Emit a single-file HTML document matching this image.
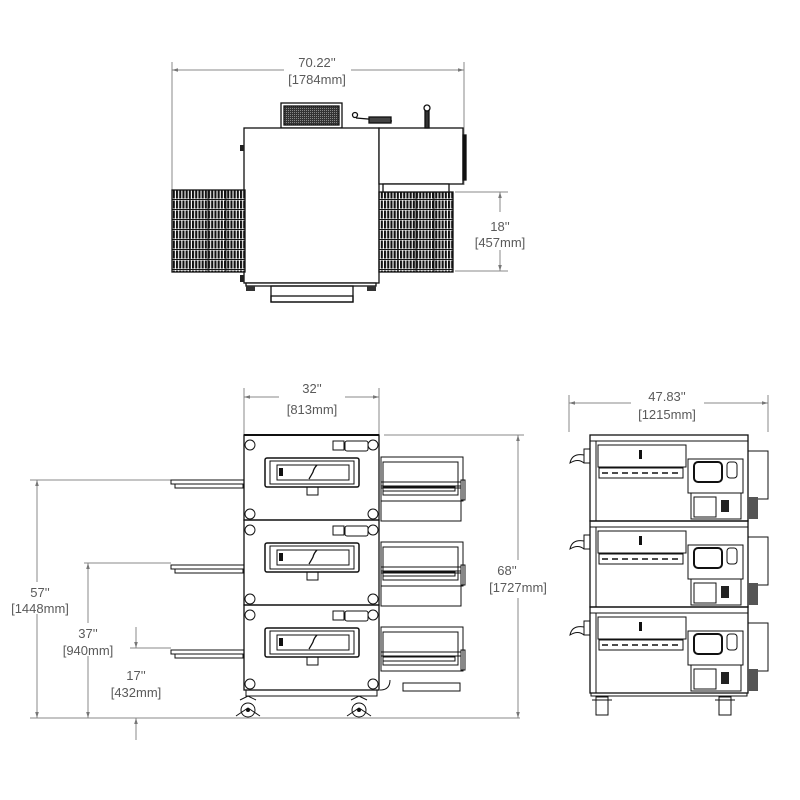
<!DOCTYPE html>
<html><head><meta charset="utf-8"><style>
html,body{margin:0;padding:0;background:#fff;}
svg{display:block}
text{font-family:"Liberation Sans",sans-serif;font-size:13px;fill:#5a5a5a;text-anchor:middle}
</style></head><body>
<svg width="800" height="800" viewBox="0 0 800 800" xmlns="http://www.w3.org/2000/svg">
<defs>
<pattern id="gr" width="3.2" height="10" patternUnits="userSpaceOnUse">
<rect width="3.2" height="10" fill="#fff"/>
<rect x="0" y="0.5" width="2.1" height="8" fill="#111"/>
<rect x="0" y="9" width="3.2" height="1" fill="#111"/>
</pattern>
<pattern id="mesh" width="2" height="2" patternUnits="userSpaceOnUse">
<rect width="2" height="2" fill="#333"/><rect width="1" height="1" fill="#888"/>
</pattern>
<marker id="ar" viewBox="0 0 10 10" refX="10" refY="5" markerWidth="6" markerHeight="6" orient="auto-start-reverse"><path d="M0,2 L10,5 L0,8 z" fill="#777"/></marker>
<g id="fu">
<rect x="244" y="0" width="135" height="85" fill="none" stroke="#111" stroke-width="1.3"/>
<circle cx="250" cy="10" r="5" fill="#fff" stroke="#111"/><circle cx="373" cy="10" r="5" fill="#fff" stroke="#111"/>
<circle cx="250" cy="79" r="5" fill="#fff" stroke="#111"/><circle cx="373" cy="79" r="5" fill="#fff" stroke="#111"/>
<rect x="333" y="6" width="11" height="9" fill="none" stroke="#111"/><rect x="345" y="6" width="23" height="10" rx="2" fill="none" stroke="#111"/>
<rect x="265" y="23" width="94" height="29" rx="2" fill="none" stroke="#111" stroke-width="1.5"/>
<rect x="270" y="26" width="84" height="23" fill="none" stroke="#111"/>
<rect x="277" y="30" width="72" height="15" fill="none" stroke="#111"/>
<rect x="279" y="33" width="4" height="8" fill="#111"/>
<path d="M309,44 q3,-5 4,-7 q1,-4 4,-7" stroke="#111" fill="none" stroke-width="1.3"/>
<rect x="307" y="52" width="11" height="8" fill="none" stroke="#111"/>
<rect x="171" y="45" width="73" height="4" fill="none" stroke="#111"/>
<rect x="175" y="49" width="68" height="4" fill="none" stroke="#111"/>
<rect x="381" y="22" width="82" height="44" fill="none" stroke="#111"/>
<rect x="383" y="27" width="75" height="33" fill="none" stroke="#111"/>
<rect x="381" y="47" width="80" height="4" fill="none" stroke="#111"/>
<rect x="383" y="52" width="72" height="4" fill="none" stroke="#111"/>
<rect x="461" y="45" width="4" height="20" fill="none" stroke="#111"/>
</g>
<g id="su">
<rect x="590" y="0" width="158" height="86" fill="none" stroke="#111" stroke-width="1.3"/>
<line x1="590" y1="6" x2="748" y2="6" stroke="#111"/>
<line x1="596" y1="6" x2="596" y2="86" stroke="#111"/>
<rect x="598" y="10" width="88" height="22" fill="none" stroke="#111"/>
<rect x="599" y="33" width="84" height="10" fill="none" stroke="#111"/>
<line x1="602" y1="38" x2="680" y2="38" stroke="#111" stroke-dasharray="6,4" stroke-width="1.5"/>
<rect x="639" y="15" width="3" height="9" fill="#111"/>
<rect x="688" y="24" width="55" height="34" fill="none" stroke="#111"/>
<rect x="694" y="27" width="28" height="20" rx="4" fill="none" stroke="#111" stroke-width="2"/>
<rect x="727" y="27" width="10" height="16" rx="3" fill="none" stroke="#111"/>
<rect x="691" y="58" width="50" height="26" fill="none" stroke="#111"/>
<rect x="694" y="62" width="22" height="20" fill="none" stroke="#111"/>
<rect x="721" y="65" width="8" height="12" fill="#222"/>
<rect x="748" y="16" width="20" height="48" fill="none" stroke="#111"/>
<path d="M584,20 q-12,-2 -14,8 q8,-5 14,0" fill="none" stroke="#111"/>
<rect x="584" y="14" width="6" height="14" fill="none" stroke="#111"/>
<rect x="748" y="62" width="10" height="22" fill="#555"/>
</g>
</defs>

<!-- TOP VIEW -->
<g stroke="#888" stroke-width="1" fill="none">
<line x1="172" y1="62" x2="172" y2="190"/><line x1="464" y1="62" x2="464" y2="185"/>
<line x1="172" y1="70" x2="284" y2="70" marker-start="url(#ar)"/><line x1="351" y1="70" x2="464" y2="70" marker-end="url(#ar)"/>
<line x1="455" y1="192" x2="508" y2="192"/><line x1="455" y1="271" x2="508" y2="271"/>
<line x1="500" y1="192" x2="500" y2="212" marker-start="url(#ar)"/><line x1="500" y1="250" x2="500" y2="271" marker-end="url(#ar)"/>
</g>
<text x="317" y="67">70.22''</text><text x="317" y="84">[1784mm]</text>
<text x="500" y="231">18''</text><text x="500" y="247">[457mm]</text>

<g stroke="#111" stroke-width="1.3">
<rect x="281" y="103" width="61" height="25" fill="#fff"/>
<rect x="284" y="106" width="55" height="19" fill="url(#mesh)"/>
<rect x="244" y="128" width="135" height="155" fill="#fff"/>
<rect x="379" y="128" width="84" height="56" fill="#fff"/>
<rect x="463" y="135" width="3" height="45" fill="#111"/>
<rect x="172" y="190" width="73" height="82" fill="url(#gr)"/>
<rect x="379" y="192" width="74" height="80" fill="url(#gr)"/>
<rect x="383" y="184" width="66" height="8" fill="#fff"/>
<rect x="246" y="283" width="130" height="3" fill="#fff"/>
<rect x="271" y="286" width="82" height="16" fill="none"/>
<rect x="271" y="296" width="82" height="6" fill="none"/>
<line x1="356" y1="118" x2="392" y2="121"/>
<rect x="369" y="117" width="22" height="6" fill="#444"/>
<circle cx="355" cy="115" r="2.5" fill="#fff"/>
<rect x="425" y="108" width="4" height="20" fill="#333"/>
<circle cx="427" cy="108" r="3" fill="#fff"/>
</g>
<g stroke="#111" fill="none">
<line x1="208" y1="190" x2="208" y2="272"/><line x1="190" y1="190" x2="190" y2="272"/><line x1="226" y1="190" x2="226" y2="272"/>
<line x1="398" y1="192" x2="398" y2="272"/><line x1="416" y1="192" x2="416" y2="272"/><line x1="434" y1="192" x2="434" y2="272"/>
</g>
<rect x="240" y="145" width="4" height="6" fill="#222"/><rect x="240" y="275" width="4" height="7" fill="#222"/>
<rect x="246" y="286" width="9" height="5" fill="#333"/><rect x="367" y="286" width="9" height="5" fill="#333"/>

<!-- FRONT VIEW -->
<g stroke="#888" stroke-width="1" fill="none">
<line x1="244" y1="388" x2="244" y2="435"/><line x1="379" y1="388" x2="379" y2="435"/>
<line x1="244" y1="397" x2="279" y2="397" marker-start="url(#ar)"/><line x1="345" y1="397" x2="379" y2="397" marker-end="url(#ar)"/>
<line x1="384" y1="435" x2="524" y2="435"/>
<line x1="518" y1="435" x2="518" y2="560" marker-start="url(#ar)"/><line x1="518" y1="598" x2="518" y2="718" marker-end="url(#ar)"/>
<line x1="30" y1="718" x2="520" y2="718"/>
<line x1="30" y1="480" x2="171" y2="480"/>
<line x1="37" y1="480" x2="37" y2="582" marker-start="url(#ar)"/><line x1="37" y1="614" x2="37" y2="718" marker-end="url(#ar)"/>
<line x1="84" y1="563" x2="171" y2="563"/>
<line x1="88" y1="563" x2="88" y2="623" marker-start="url(#ar)"/><line x1="88" y1="656" x2="88" y2="718" marker-end="url(#ar)"/>
<line x1="130" y1="648" x2="171" y2="648"/>
<line x1="136" y1="627" x2="136" y2="648" marker-end="url(#ar)"/>
<line x1="136" y1="740" x2="136" y2="718" marker-end="url(#ar)"/>
</g>
<text x="312" y="393">32''</text><text x="312" y="414">[813mm]</text>
<text x="507" y="575">68''</text><text x="518" y="592">[1727mm]</text>
<text x="40" y="597">57''</text><text x="40" y="613">[1448mm]</text>
<text x="88" y="638">37''</text><text x="88" y="655">[940mm]</text>
<text x="136" y="680">17''</text><text x="136" y="697">[432mm]</text>

<line x1="244" y1="435" x2="379" y2="435" stroke="#111" stroke-width="2"/>
<use href="#fu" transform="translate(0,435)"/>
<use href="#fu" transform="translate(0,520)"/>
<use href="#fu" transform="translate(0,605)"/>
<g stroke="#111" fill="none">
<rect x="381" y="488" width="80" height="33"/><rect x="381" y="573" width="80" height="33"/>
<rect x="403" y="683" width="57" height="8"/>
<rect x="246" y="690" width="131" height="6"/>
<circle cx="248" cy="710" r="7"/><circle cx="359" cy="710" r="7"/>
<path d="M240,700 l8,-4 l8,4 M236,716 l12,-8 l12,8 M351,700 l8,-4 l8,4 M347,716 l12,-8 l12,8"/>
<path d="M380,690 q10,0 10,-10"/>
</g>
<circle cx="248" cy="710" r="2" fill="#111"/><circle cx="359" cy="710" r="2" fill="#111"/>

<!-- SIDE VIEW -->
<g stroke="#888" stroke-width="1" fill="none">
<line x1="569" y1="395" x2="569" y2="432"/><line x1="768" y1="395" x2="768" y2="432"/>
<line x1="569" y1="403" x2="631" y2="403" marker-start="url(#ar)"/><line x1="704" y1="403" x2="768" y2="403" marker-end="url(#ar)"/>
</g>
<text x="667" y="401">47.83''</text><text x="667" y="419">[1215mm]</text>
<use href="#su" transform="translate(0,435)"/>
<use href="#su" transform="translate(0,521)"/>
<use href="#su" transform="translate(0,607)"/>
<g stroke="#111" fill="none">
<rect x="591" y="693" width="156" height="3"/>
<rect x="596" y="697" width="12" height="18"/><rect x="719" y="697" width="12" height="18"/>
<line x1="592" y1="700" x2="612" y2="700"/><line x1="715" y1="700" x2="735" y2="700"/>
</g>
</svg>
</body></html>
